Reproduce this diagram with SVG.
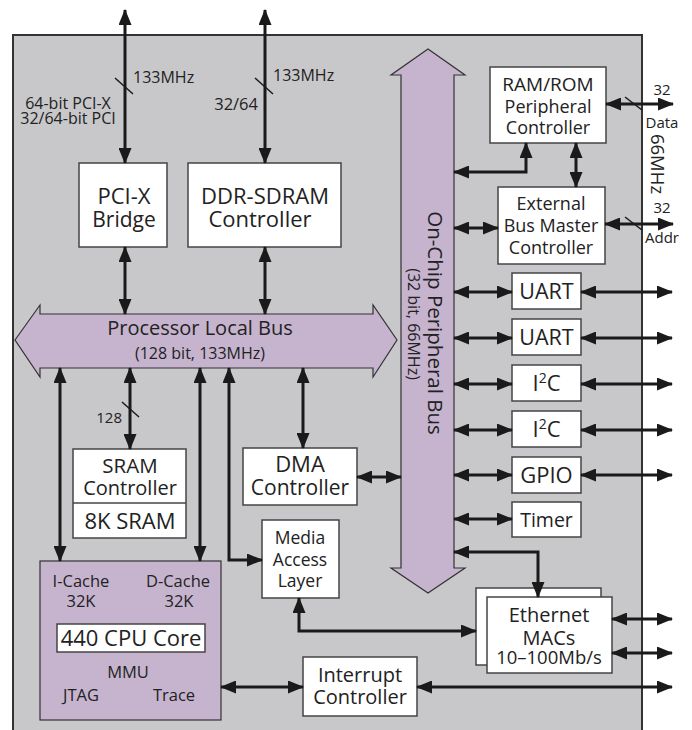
<svg xmlns="http://www.w3.org/2000/svg" width="692" height="730" viewBox="0 0 692 730">
<style>
.bg{fill:#c8c8ca;stroke:#333;stroke-width:2}
.box{fill:#fff;stroke:#444;stroke-width:1.5}
.bus{fill:#c6b4cf;stroke:#333;stroke-width:1.2}
.ln{fill:none;stroke:#1a1a1a;stroke-width:3;marker-start:url(#ah);marker-end:url(#ah)}
.sl{stroke:#1a1a1a;stroke-width:1.5}
text{font-family:"Open Sans","Noto Sans",sans-serif;fill:#222;text-anchor:middle}
.s22{font-size:22px}.s21{font-size:21px}.s20{font-size:20px}.s19{font-size:19px}.s18{font-size:18px}.s17{font-size:17px}.s16{font-size:16px}.s15{font-size:15px}
.st{text-anchor:start}.en{text-anchor:end}
</style>
<defs>
<marker id="ah" viewBox="0 0 16 13" refX="15" refY="6.5" markerWidth="16" markerHeight="13" markerUnits="userSpaceOnUse" orient="auto-start-reverse">
<path d="M0,0 L16,6.5 L0,13 z" fill="#1a1a1a"/>
</marker>
</defs>
<rect class="bg" x="13" y="35" width="629" height="710"/>
<g id="plb">
<polygon class="bus" points="15,340 40,305 40,314 373,314 373,305 397,340 373,377 373,368 40,368 40,377"/>
<text x="200" y="335" font-size="20">Processor Local Bus</text>
<text x="200" y="359" font-size="16">(128 bit, 133MHz)</text>
</g>
<g id="opb">
<polygon class="bus" points="428,49 465,75 454,75 454,568 465,568 428,593 391,568 401,568 401,75 391,75"/>
<text font-size="20.5" transform="translate(428,323) rotate(90)">On-Chip Peripheral Bus</text>
<text font-size="16" transform="translate(408,324) rotate(90)">(32 bit, 66MHz)</text>
</g>
<g id="pcix">
<rect class="box" x="79" y="163" width="88" height="84"/>
<text class="s22" x="124" y="204">PCI-X</text>
<text class="s21" x="124" y="227">Bridge</text>
</g>
<g id="ddr">
<rect class="box" x="188" y="163" width="153" height="84"/>
<text class="s22" x="265" y="204">DDR-SDRAM</text>
<text class="s22" x="260" y="227">Controller</text>
</g>
<g id="ramrom">
<rect class="box" x="490" y="67" width="116" height="76"/>
<text class="s19" x="548" y="91">RAM/ROM</text>
<text class="s18" x="548" y="113">Peripheral</text>
<text class="s18" x="548" y="134">Controller</text>
</g>
<g id="ebm">
<rect class="box" x="498" y="187" width="107" height="77"/>
<text class="s18" x="551" y="210">External</text>
<text class="s18" x="551" y="232">Bus Master</text>
<text class="s18" x="551" y="254">Controller</text>
</g>
<g id="uart1"><rect class="box" x="512" y="273" width="69" height="36"/><text x="546.5" y="299" font-size="21.5">UART</text></g>
<g id="uart2"><rect class="box" x="512" y="319" width="69" height="36"/><text x="546.5" y="345" font-size="21.5">UART</text></g>
<g id="i2c1"><rect class="box" x="512" y="365" width="69" height="36"/><text class="s22" x="546.5" y="391">I<tspan font-size="14" dy="-8">2</tspan><tspan dy="8">C</tspan></text></g>
<g id="i2c2"><rect class="box" x="512" y="411" width="69" height="36"/><text class="s22" x="546.5" y="437">I<tspan font-size="14" dy="-8">2</tspan><tspan dy="8">C</tspan></text></g>
<g id="gpio"><rect class="box" x="512" y="457" width="69" height="36"/><text class="s22" x="546.5" y="483">GPIO</text></g>
<g id="timer"><rect class="box" x="512" y="502" width="69" height="35"/><text x="546.5" y="527" font-size="19.5">Timer</text></g>
<g id="ethernet">
<rect class="box" x="476" y="588" width="125" height="77"/>
<rect class="box" x="487" y="597" width="125" height="76"/>
<text class="s20" x="549" y="622">Ethernet</text>
<text class="s20" x="549" y="645">MACs</text>
<text x="549" y="664" font-size="18.5">10–100Mb/s</text>
</g>
<g id="sram">
<rect class="box" x="73" y="449" width="113" height="89"/>
<line x1="73" y1="503" x2="186" y2="503" stroke="#444" stroke-width="1.5"/>
<text x="130" y="473" font-size="20.5">SRAM</text>
<text class="s20" x="130" y="495">Controller</text>
<text class="s22" x="130" y="529">8K SRAM</text>
</g>
<g id="dma">
<rect class="box" x="243" y="448" width="114" height="57"/>
<text class="s22" x="300" y="472">DMA</text>
<text class="s21" x="300" y="495">Controller</text>
</g>
<g id="mal">
<rect class="box" x="262" y="520" width="77" height="78"/>
<text x="300" y="544" font-size="17.5">Media</text>
<text x="300" y="566" font-size="17.5">Access</text>
<text x="300" y="587" font-size="17.5">Layer</text>
</g>
<g id="cpu">
<rect class="bus" x="40" y="561" width="181" height="159"/>
<text x="81" y="587" font-size="16.5">I-Cache</text>
<text x="81" y="607" font-size="16.5">32K</text>
<text x="178" y="587" font-size="16.5">D-Cache</text>
<text x="179" y="607" font-size="16.5">32K</text>
<rect class="box" x="57" y="624" width="148" height="28"/>
<text class="s22" x="131" y="646">440 CPU Core</text>
<text x="128" y="678" font-size="16.5">MMU</text>
<text x="81" y="701" font-size="16.5">JTAG</text>
<text x="174" y="701" font-size="16.5">Trace</text>
</g>
<g id="intc">
<rect class="box" x="303" y="657" width="114" height="59"/>
<text class="s20" x="360" y="682">Interrupt</text>
<text class="s20" x="360" y="704">Controller</text>
</g>
<g id="connectors">
<line class="ln" x1="125" y1="10" x2="125" y2="163"/>
<line class="ln" x1="265" y1="10" x2="265" y2="163"/>
<line class="ln" x1="125" y1="247" x2="125" y2="314"/>
<line class="ln" x1="265" y1="247" x2="265" y2="314"/>
<line class="ln" x1="60" y1="368" x2="60" y2="561"/>
<line class="ln" x1="130" y1="368" x2="130" y2="449"/>
<line class="ln" x1="200" y1="368" x2="200" y2="561"/>
<path class="ln" d="M229,368 V560 H262"/>
<line class="ln" x1="303" y1="368" x2="303" y2="448"/>
<line class="ln" x1="357" y1="477" x2="401" y2="477"/>
<path class="ln" d="M454,172 H526 V143"/>
<line class="ln" x1="576" y1="143" x2="576" y2="187"/>
<line class="ln" x1="454" y1="228" x2="498" y2="228"/>
<line class="ln" x1="606" y1="104" x2="673" y2="104"/>
<line class="ln" x1="605" y1="224" x2="673" y2="224"/>
<line class="ln" x1="454" y1="292" x2="512" y2="292"/>
<line class="ln" x1="454" y1="338" x2="512" y2="338"/>
<line class="ln" x1="454" y1="384" x2="512" y2="384"/>
<line class="ln" x1="454" y1="430" x2="512" y2="430"/>
<line class="ln" x1="454" y1="475" x2="512" y2="475"/>
<line class="ln" x1="454" y1="519" x2="512" y2="519"/>
<line class="ln" x1="581" y1="292" x2="672" y2="292"/>
<line class="ln" x1="581" y1="338" x2="672" y2="338"/>
<line class="ln" x1="581" y1="384" x2="672" y2="384"/>
<line class="ln" x1="581" y1="430" x2="672" y2="430"/>
<line class="ln" x1="581" y1="475" x2="672" y2="475"/>
<path class="ln" d="M454,552 H538 V597"/>
<path class="ln" d="M299,598 V631 H476"/>
<line class="ln" x1="612" y1="619" x2="672" y2="619"/>
<line class="ln" x1="612" y1="653" x2="672" y2="653"/>
<line class="ln" x1="221" y1="687" x2="303" y2="687"/>
<line class="ln" x1="417" y1="687" x2="672" y2="687"/>
<line class="sl" x1="115" y1="78" x2="133" y2="94"/>
<line class="sl" x1="255" y1="78" x2="273" y2="94"/>
<line class="sl" x1="122" y1="402" x2="139" y2="417"/>
<line class="sl" x1="625" y1="97" x2="642" y2="110"/>
<line class="sl" x1="625" y1="217" x2="642" y2="230"/>
</g>
<g id="labels">
<text class="s16 st" x="133" y="83">133MHz</text>
<text class="s16" x="68" y="109">64-bit PCI-X</text>
<text class="s16" x="68" y="124">32/64-bit PCI</text>
<text class="s16 st" x="273" y="81">133MHz</text>
<text class="en" x="258" y="110" font-size="16.5">32/64</text>
<text class="s15 en" x="122" y="423">128</text>
<text class="s15" x="662" y="95">32</text>
<text class="s15" x="662" y="128">Data</text>
<text class="s15" x="662" y="213">32</text>
<text class="s15" x="662" y="243">Addr</text>
<text x="0" y="0" font-size="18.5" transform="translate(651,164) rotate(90)">66MHz</text>
</g>
</svg>
